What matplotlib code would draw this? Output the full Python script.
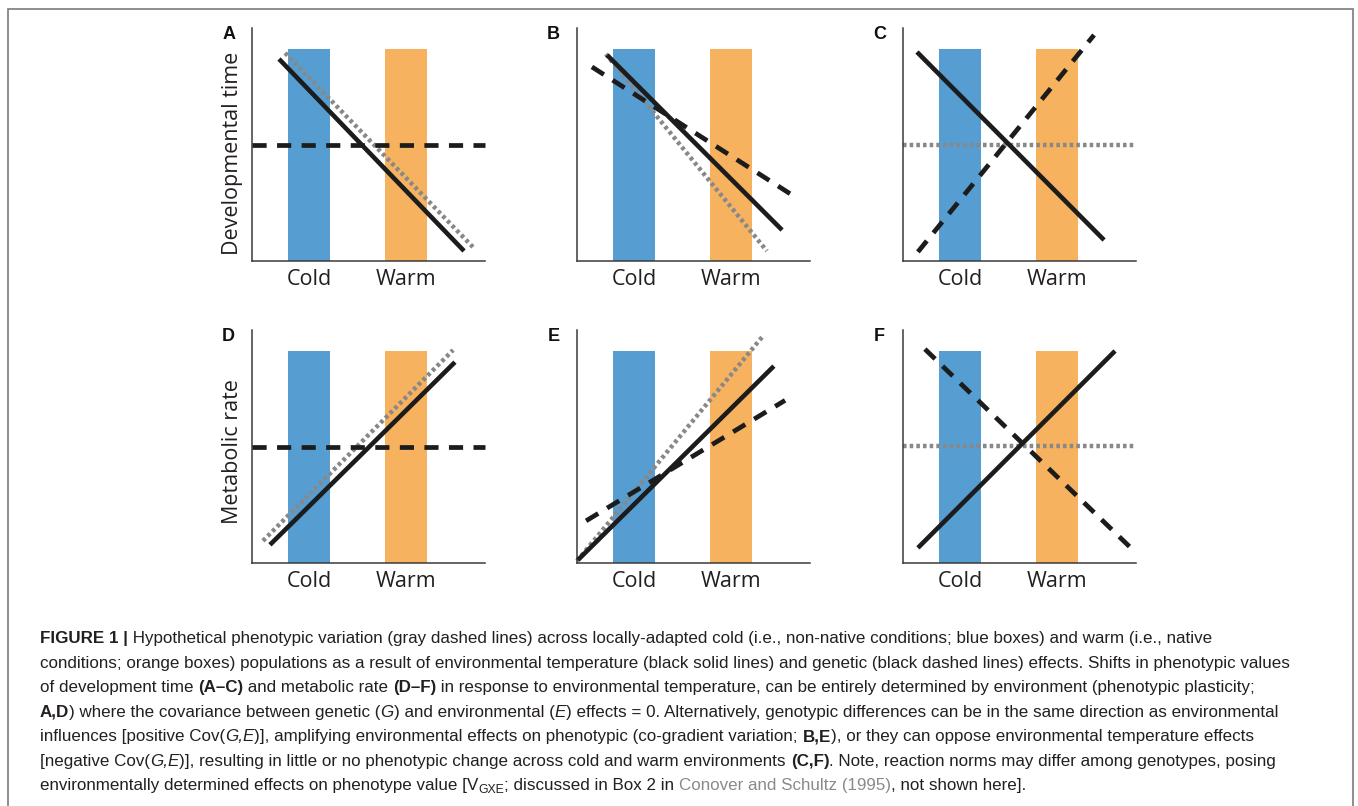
import matplotlib
matplotlib.use("Agg")
import matplotlib.pyplot as plt
from matplotlib.font_manager import FontProperties
from matplotlib.patches import Rectangle

W, H = 1358, 806

panel_letters = ["A", "B", "C", "D", "E", "F"]
y_labels = ["Developmental time", "Metabolic rate"]
conditions = ["Cold", "Warm"]
bar_centers = [0.245, 0.66]
bar_width = 0.18
bar_height = 0.91

# environmental effect (black solid), endpoints in axes units
env_x = [[0.116, 0.910], [0.129, 0.880], [0.060, 0.863],
         [0.077, 0.871], [0.004, 0.845], [0.064, 0.910]]
env_y = [[0.867, 0.043], [0.884, 0.133], [0.897, 0.090],
         [0.078, 0.862], [0.013, 0.845], [0.065, 0.910]]
# genetic effect (black dashed)
gen_x = [[0.0, 1.0], [0.064, 0.936], [0.064, 0.820],
         [0.0, 1.0], [0.039, 0.893], [0.094, 0.987]]
gen_y = [[0.498, 0.498], [0.833, 0.275], [0.039, 0.970],
         [0.500, 0.500], [0.181, 0.698], [0.918, 0.056]]
# phenotype (gray dotted)
phen_x = [[0.142, 0.948], [0.124, 0.815], [0.0, 0.990],
          [0.047, 0.863], [0.0, 0.798], [0.0, 1.0]]
phen_y = [[0.893, 0.060], [0.888, 0.043], [0.498, 0.498],
          [0.095, 0.914], [0.009, 0.974], [0.504, 0.504]]

caption = [
    [("FIGURE 1 |", "b"), (" Hypothetical phenotypic variation (gray dashed lines) across locally-adapted cold (i.e., non-native conditions; blue boxes) and warm (i.e., native", "")],
    [("conditions; orange boxes) populations as a result of environmental temperature (black solid lines) and genetic (black dashed lines) effects. Shifts in phenotypic values", "")],
    [("of development time ", ""), ("(A\u2013C)", "b"), (" and metabolic rate ", ""), ("(D\u2013F)", "b"),
     (" in response to environmental temperature, can be entirely determined by environment (phenotypic plasticity;", "")],
    [("A,D", "b"), (") where the covariance between genetic (", ""), ("G", "i"), (") and environmental (", ""), ("E", "i"),
     (") effects = 0. Alternatively, genotypic differences can be in the same direction as environmental", "")],
    [("influences [positive Cov(", ""), ("G,E", "i"), (")], amplifying environmental effects on phenotypic (co-gradient variation; ", ""),
     ("B,E", "b"), ("), or they can oppose environmental temperature effects", "")],
    [("[negative Cov(", ""), ("G,E", "i"), (")], resulting in little or no phenotypic change across cold and warm environments ", ""),
     ("(C,F)", "b"), (". Note, reaction norms may differ among genotypes, posing", "")],
    [("environmentally determined effects on phenotype value [V", ""), ("GXE", "sub"), ("; discussed in Box 2 in ", ""),
     ("Conover and Schultz (1995)", "g"), (", not shown here].", "")],
]

BLUE = "#569ed2"
ORANGE = "#f6b25f"
GRAY = "#888888"
INK = "#1c1c1c"
PANEL_FONT = "Open Sans"
CAP_FONT = "Liberation Sans"

fig = plt.figure(figsize=(W / 100, H / 100), dpi=100)

fig.patches.append(Rectangle((8 / W, -0.01), (1353 - 8) / W, (H - 9) / H + 0.01,
                             transform=fig.transFigure, fill=False,
                             ec="#7a7a7a", lw=1.2))

col_left = [252, 577, 903]
row_top = [28, 330]
ax_w, ax_h = 233, 233

for i, letter in enumerate(panel_letters):
    r, c = divmod(i, 3)
    ax = fig.add_axes([col_left[c] / W, (H - row_top[r] - ax_h) / H, ax_w / W, ax_h / H])
    ax.set_xlim(0, 1)
    ax.set_ylim(0, 1)
    for s in ["top", "right"]:
        ax.spines[s].set_visible(False)
    for s in ["left", "bottom"]:
        ax.spines[s].set_color("#3a3a3a")
        ax.spines[s].set_linewidth(1.1)

    ax.bar(bar_centers, [bar_height] * 2, width=bar_width,
           color=[BLUE, ORANGE], zorder=1)
    ax.plot(phen_x[i], phen_y[i], color=GRAY, lw=3.2,
            linestyle=(0, (0.8, 0.7)), zorder=2, clip_on=False)
    ax.plot(env_x[i], env_y[i], color=INK, lw=3.3, zorder=3,
            solid_capstyle="butt", clip_on=False)
    ax.plot(gen_x[i], gen_y[i], color=INK, lw=3.4,
            linestyle=(0, (3.0, 2.2)), zorder=4, clip_on=False)

    ax.set_xticks(bar_centers, conditions)
    ax.set_yticks([])
    ax.tick_params(axis="x", length=0, pad=6, labelsize=15.5,
                   labelcolor="#231f20")
    for lab in ax.get_xticklabels():
        lab.set_fontfamily(PANEL_FONT)

    if c == 0:
        ax.set_ylabel(y_labels[r], fontsize=15.5, family=PANEL_FONT,
                      color="#231f20")
        ax.yaxis.set_label_coords(-0.04, 0.46 if r == 0 else 0.48)

    ax.text(-0.1, 0.97, letter, transform=ax.transAxes, ha="center",
            va="center", fontsize=13, fontweight="bold",
            family="Liberation Sans", color="#111111")

# caption, laid out piece by piece
renderer = fig.canvas.get_renderer()


def seg_props(style, size):
    prop = FontProperties(family=CAP_FONT, size=size)
    if style == "b":
        prop.set_weight("bold")
    elif style == "i":
        prop.set_style("italic")
    elif style == "sub":
        prop.set_size(size * 0.72)
    return prop


def seg_width(text, prop):
    w1, _, _ = renderer.get_text_width_height_descent("|" + text + "|", prop, ismath=False)
    w0, _, _ = renderer.get_text_width_height_descent("||", prop, ismath=False)
    return w1 - w0


def line_width(segs, size):
    return sum(seg_width(t, seg_props(s, size)) for t, s in segs)


target = 1252
base = 10.0
cap_size = base * target / line_width(caption[1], base)

x0 = 40
for k, segs in enumerate(caption):
    y = 643 + k * 24.55
    x = x0
    for text, style in segs:
        prop = seg_props(style, cap_size)
        color = "#8a8a8a" if style == "g" else "#231f20"
        yy = y + 3 if style == "sub" else y
        fig.text(x / W, (H - yy) / H, text, fontproperties=prop,
                 color=color, ha="left", va="baseline")
        x += seg_width(text, prop)

fig.savefig("out.png", dpi=100)
